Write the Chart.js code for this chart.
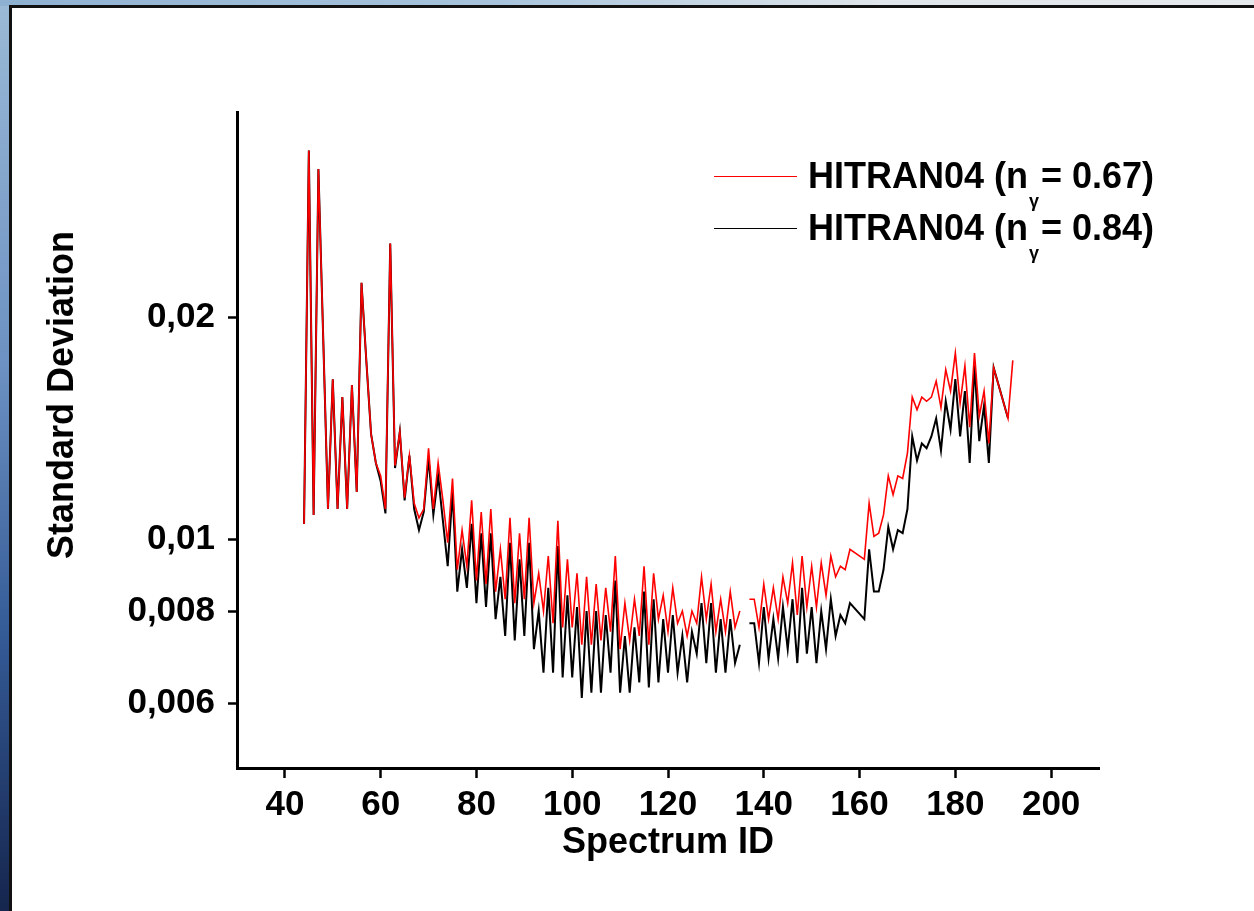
<!DOCTYPE html>
<html>
<head>
<meta charset="utf-8">
<script src="https://cdn.jsdelivr.net/npm/chart.js@4.4.1/dist/chart.umd.min.js"></script>
<style>
  html, body { margin:0; padding:0; width:1254px; height:911px; overflow:hidden; }
  body { position:relative; font-family:"Liberation Sans", Arial, sans-serif;
         background: linear-gradient(to bottom, #9bbad6 0%, #6c91c2 40%, #345a96 70%, #15254d 100%); }
  #topstrip { position:absolute; left:0; top:0; width:1254px; height:6px;
              background: linear-gradient(to right, #8fb1d1, #a8c4dc 40%, #dfe5ea 70%, #e6e9ec); }
  #panel { position:absolute; left:9px; top:5px; width:1260px; height:920px; background:#fff;
           border-left:3px solid #111; border-top:3px solid #111; }
  #wrap { position:absolute; left:0; top:0; width:1254px; height:911px; }
  #legend { position:absolute; left:714px; top:0; }
  .row { position:absolute; left:0; height:40px; display:flex; align-items:center; white-space:nowrap;
         font-weight:bold; font-size:36px; color:#000; }
  .sample { width:83px; height:0; border-top:1.5px solid; margin-right:11px; }
  .sub { font-size:18px; position:relative; top:19px; padding-left:1px; padding-right:2px; }
</style>
</head>
<body>
<div id="topstrip"></div>
<div id="panel"></div>
<div id="wrap"><canvas id="chart"></canvas></div>
<div id="legend"></div>
<script>
// Spectrum IDs (x), gaps at 136, 159-160, 189-190
var spectrumIds = [44,45,46,47,48,49,50,51,52,53,54,55,56,57,58,59,60,61,62,63,64,65,66,67,68,69,70,71,72,73,74,75,76,77,78,79,80,81,82,83,84,85,86,87,88,89,90,91,92,93,94,95,96,97,98,99,100,101,102,103,104,105,106,107,108,109,110,111,112,113,114,115,116,117,118,119,120,121,122,123,124,125,126,127,128,129,130,131,132,133,134,135,136,
  137,138,139,140,141,142,143,144,145,146,147,148,149,150,151,152,153,154,155,156,157,158,
  161,162,163,164,165,166,167,168,169,170,171,172,173,174,175,176,177,178,179,180,181,182,183,184,185,186,187,188,
  191,192];

// HITRAN04 (n_gamma = 0.67)
var sd067 = [.0105,.0337,.0108,.0318,.0188,.0110,.0165,.0110,.0156,.0110,.0162,.0116,.0223,.0175,.0139,.0127,.0122,.0110,.0252,.0126,
  .0140,.0114,.0130,.0112,.0107,.0110,.0133,.0110,.0127,.0113,.0099,.0121,.0091,.0103,.0092,.0113,.0088,.0109,.0087,.0110,
  .0085,.0097,.0083,.0107,.0082,.0102,.0083,.0107,.0082,.0090,.0080,.0095,.0077,.0106,.0076,.0094,.0076,.0090,.0072,.0089,
  .0072,.0087,.0073,.0086,.0075,.0095,.0071,.0082,.0073,.0083,.0074,.0092,.0072,.0090,.0078,.0084,.0075,.0086,.0077,.0080,
  .0074,.0080,.0077,.0089,.0078,.0087,.0075,.0083,.0075,.0085,.0076,.0080,null,
  .0083,.0083,.0076,.0087,.0078,.0086,.0078,.0089,.0082,.0093,.0079,.0095,.0081,.0092,.0081,.0093,.0084,.0095,.0089,.0092,.0091,.0097,
  .0094,.0112,.0101,.0102,.0108,.0122,.0115,.0122,.0121,.0131,.0156,.0150,.0156,.0154,.0156,.0164,.0151,.0170,.0159,.0179,.0153,.0172,.0142,.0179,.0147,.0159,.0135,.0171,
  .0146,.0175];

// HITRAN04 (n_gamma = 0.84)
var sd084 = [.0105,.0337,.0108,.0318,.0188,.0110,.0165,.0110,.0156,.0110,.0162,.0116,.0223,.0175,.0139,.0127,.0120,.01085,.0252,.0125,
  .0140,.0113,.0130,.0110,.0103,.0109,.0129,.0108,.0122,.0106,.0092,.0116,.0085,.0097,.0086,.0105,.0082,.0102,.0081,.0102,
  .0078,.0089,.0074,.0099,.0073,.0094,.0074,.0099,.0071,.0080,.0066,.0086,.0066,.0098,.0065,.0084,.0065,.0081,.0061,.0080,
  .0062,.0080,.0062,.0079,.0066,.0088,.0062,.0074,.0062,.0076,.0064,.0085,.0063,.0083,.0064,.0078,.0066,.0079,.0066,.0074,
  .0064,.0075,.0070,.0082,.0068,.0082,.0066,.0078,.0066,.0078,.0068,.0072,null,
  .0077,.0077,.0068,.0081,.0069,.0078,.0069,.0081,.0071,.0083,.0068,.0086,.0070,.0081,.0068,.0080,.0071,.0083,.0074,.0079,.0077,.0082,
  .0078,.0097,.0085,.0085,.0091,.0104,.0097,.0103,.0102,.0110,.0138,.0128,.0135,.0133,.0138,.0146,.0132,.0154,.0141,.0165,.0138,.0159,.0127,.0172,.0136,.0152,.0127,.0171,
  .0146,null];

var xTicks = [40, 60, 80, 100, 120, 140, 160, 180, 200];
var yTicks = [0.006, 0.008, 0.01, 0.02];
var nGamma = ['0.67', '0.84'];
var colors = ['#ff0000', '#000000'];

function points(vals) {
  return spectrumIds.map(function (id, i) { return { x: id, y: vals[i] }; });
}

var fontFamily = '"Liberation Sans", Arial, sans-serif';
var ctx = document.getElementById('chart').getContext('2d');
var chart = new Chart(ctx, {
  type: 'line',
  data: {
    datasets: [{
      label: 'HITRAN04 (nγ = ' + nGamma[0] + ')',
      data: points(sd067),
      borderColor: colors[0],
      borderWidth: 1.6,
      pointRadius: 0,
      tension: 0,
      spanGaps: false
    }, {
      label: 'HITRAN04 (nγ = ' + nGamma[1] + ')',
      data: points(sd084),
      borderColor: colors[1],
      borderWidth: 2,
      pointRadius: 0,
      tension: 0,
      spanGaps: false
    }]
  },
  options: {
    responsive: true,
    maintainAspectRatio: false,
    animation: false,
    layout: { padding: { left: 41, top: 112, right: 155, bottom: 43 } },
    plugins: { legend: { display: false }, tooltip: { enabled: false } },
    scales: {
      x: {
        type: 'linear',
        min: 30, max: 210,
        afterBuildTicks: function (s) { s.ticks = xTicks.map(function (v) { return { value: v }; }); },
        afterFit: function (s) { s.height = 100; },
        grid: { drawOnChartArea: false, drawTicks: true, tickLength: 10, tickWidth: 2.5, tickColor: '#000' },
        border: { display: true, color: '#000', width: 3 },
        ticks: { color: '#000', padding: 6, maxRotation: 0, autoSkip: false,
                 font: { family: fontFamily, size: 35, weight: 'bold' } },
        title: { display: true, text: 'Spectrum ID', color: '#000', padding: { top: 0, bottom: 3 },
                 font: { family: fontFamily, size: 36, weight: 'bold' } }
      },
      y: {
        type: 'logarithmic',
        min: 0.0049, max: 0.038,
        afterBuildTicks: function (s) { s.ticks = yTicks.map(function (v) { return { value: v }; }); },
        afterFit: function (s) { s.width = 196; },
        grid: { drawOnChartArea: false, drawTicks: true, tickLength: 9, tickWidth: 2.5, tickColor: '#000' },
        border: { display: true, color: '#000', width: 3 },
        ticks: { color: '#000', padding: 13, autoSkip: false,
                 callback: function (v) { return String(v).replace('.', ','); },
                 font: { family: fontFamily, size: 35, weight: 'bold' } },
        // leading spaces lift the centred title, as in the original
        title: { display: true, text: '         Standard Deviation', color: '#000', padding: { top: 0, bottom: 0 },
                 font: { family: fontFamily, size: 36, weight: 'bold' } }
      }
    }
  }
});

// legend with subscript gamma, built from the datasets
var legend = document.getElementById('legend');
var rowTops = [156, 208];
chart.data.datasets.forEach(function (ds, i) {
  var row = document.createElement('div');
  row.className = 'row';
  row.style.top = rowTops[i] + 'px';
  row.innerHTML = '<span class="sample" style="border-color:' + ds.borderColor + '"></span>' +
    '<span>HITRAN04 (n<span class="sub">γ</span>= ' + nGamma[i] + ')</span>';
  legend.appendChild(row);
});
</script>
</body>
</html>
